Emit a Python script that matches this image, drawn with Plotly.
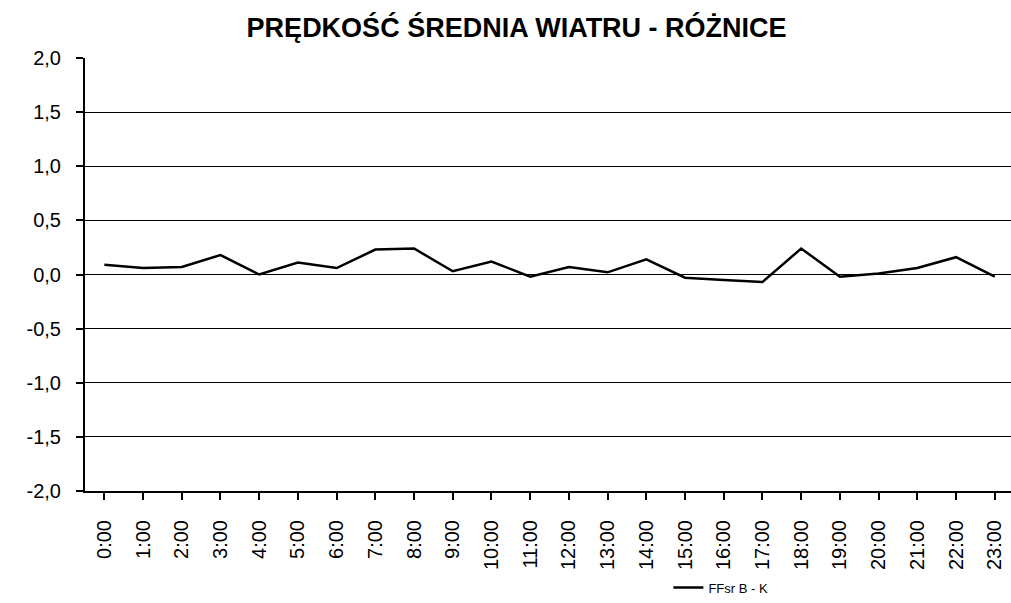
import plotly.graph_objects as go

hours = [f"{h}:00" for h in range(24)]
ffsr_b_k = [0.09, 0.06, 0.07, 0.18, 0.00, 0.11, 0.06, 0.23, 0.24, 0.03, 0.12, -0.02,
            0.07, 0.02, 0.14, -0.03, -0.05, -0.07, 0.24, -0.02, 0.01, 0.06, 0.16, -0.02]
y_ticks = [-2.0, -1.5, -1.0, -0.5, 0.0, 0.5, 1.0, 1.5, 2.0]

fig = go.Figure()
fig.add_trace(go.Scatter(
    x=list(range(24)), y=ffsr_b_k, mode="lines", name="FFsr B - K",
    line=dict(color="black", width=2.5),
))

fig.update_layout(
    width=1011, height=603, autosize=False,
    paper_bgcolor="white", plot_bgcolor="white",
    separators=", ",
    margin=dict(l=85, r=0, t=58, b=110),
    font=dict(family="Liberation Sans, Arial, sans-serif", color="black"),
    title=dict(text="<b>PRĘDKOŚĆ ŚREDNIA WIATRU - RÓŻNICE</b>",
               x=0.511, xanchor="center", y=0.955, yanchor="middle",
               font=dict(size=27, color="black")),
    showlegend=True,
    legend=dict(orientation="h", x=0.63, xanchor="left", y=-0.223, yanchor="middle",
                font=dict(size=13), bgcolor="rgba(0,0,0,0)"),
    xaxis=dict(
        range=[-0.5, 23.42], tickmode="array", tickvals=list(range(24)), ticktext=hours,
        tickangle=-90, tickfont=dict(size=20), showgrid=False, zeroline=False,
        showline=True, linecolor="black", linewidth=2,
        ticks="outside", ticklen=7, tickwidth=1.5, tickcolor="black",
        tickson="boundaries", ticklabelstandoff=12,
    ),
    yaxis=dict(
        range=[-2.0, 2.0], tickmode="array", tickvals=y_ticks,
        ticktext=[f"{v:.1f}".replace(".", ",") for v in y_ticks],
        tickfont=dict(size=20), showgrid=True, gridcolor="black", gridwidth=1,
        zeroline=False, showline=True, linecolor="black", linewidth=2,
        ticks="outside", ticklen=7, tickwidth=1.5, tickcolor="black",
        ticklabelstandoff=11,
    ),
)

fig.write_html("out.html", config={"displayModeBar": False},
               post_script="document.body.style.margin='0';document.body.style.overflow='hidden';")
